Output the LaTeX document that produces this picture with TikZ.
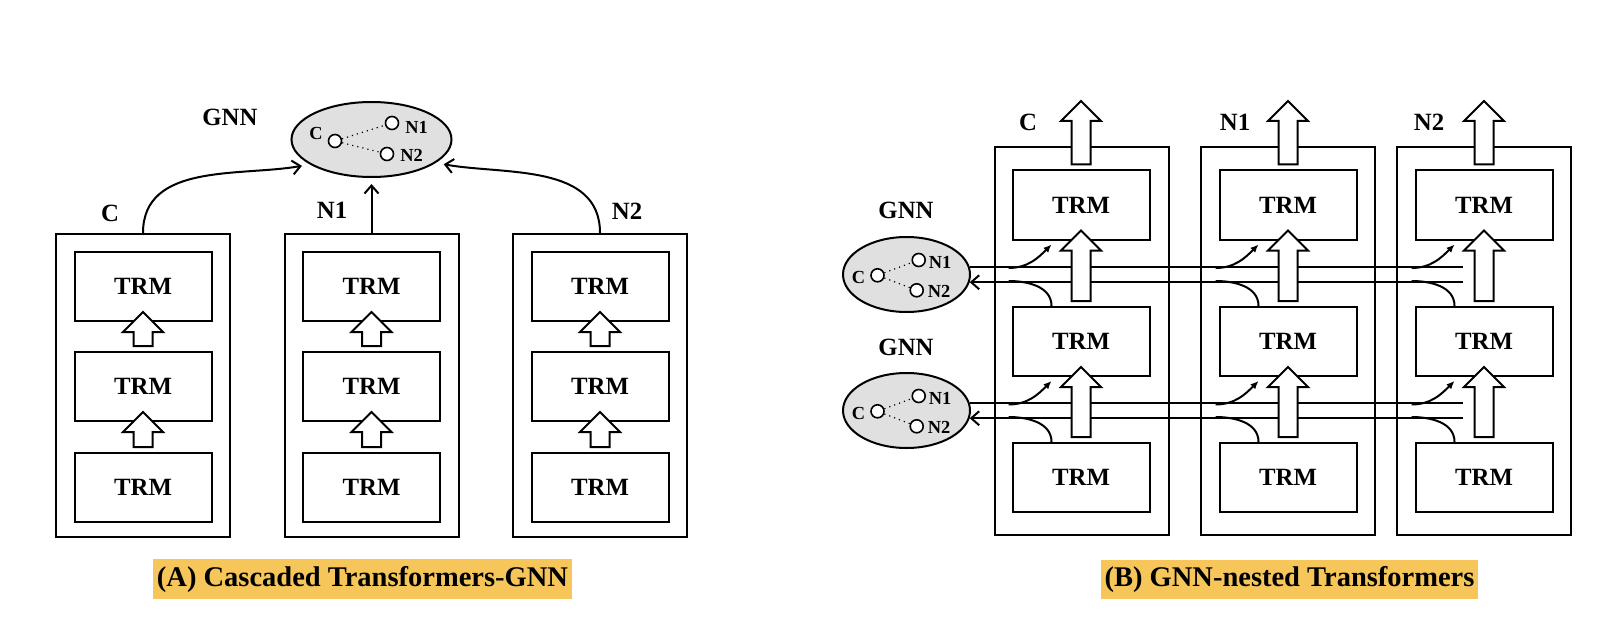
\documentclass[tikz,border=0pt]{standalone}
\usepackage{fontspec}
\setmainfont{Liberation Serif}
\usetikzlibrary{calc,shapes.geometric,arrows.meta,positioning}
\definecolor{capyellow}{RGB}{246,198,91}

\begin{document}
\begin{tikzpicture}[x=0.5pt, y=-0.5pt, line width=1pt,
    font=\fontsize{12.4}{14}\selectfont\bfseries,
    colbox/.style={draw, rectangle, minimum width=87pt, inner sep=0pt},
    trm/.style={draw, rectangle, fill=white, minimum width=68.5pt,
      minimum height=34.5pt, inner sep=0pt},
    gnn/.style={ellipse, draw, fill=black!12, inner sep=0pt},
    vertex/.style={circle, draw, fill=white, line width=0.8pt,
      minimum size=6.5pt, inner sep=0pt},
    smalltext/.style={font=\fontsize{9.2}{10}\selectfont\bfseries,
      inner sep=0pt, anchor=base},
    lbl/.style={inner sep=0pt, anchor=base},
    hollow/.style={draw, fill=white, to path={
      ($(\tikztostart)+(-9.5,-5)$) -- ($(\tikztotarget)+(-9.5,10)$)
      -- ($(\tikztotarget)+(-20,10)$) -- ($(\tikztotarget)+(0,-10)$)
      -- ($(\tikztotarget)+(20,10)$) -- ($(\tikztotarget)+(9.5,10)$)
      -- ($(\tikztostart)+(9.5,-5)$) -- cycle}},
    >={Straight Barb[length=4pt,width=7pt]},
    feed/.style={-{Latex[length=4pt,width=3.5pt]}},
    captionbox/.style={fill=capyellow, font=\fontsize{14.25}{16}\selectfont\bfseries,
      inner xsep=2pt, minimum height=19pt}]
    \useasboundingbox (0,0) rectangle (1620,636);

    % (A) cascaded
    \node[colbox, minimum height=151.5pt] (lc) at (143,385.5) {};
    \node[colbox, minimum height=151.5pt] (ln1) at (371.5,385.5) {};
    \node[colbox, minimum height=151.5pt] (ln2) at (600,385.5) {};
    \node[trm] (lc1) at (143,286.5) {TRM};
    \node[trm] (lc2) at (143,386.5) {TRM};
    \node[trm] (lc3) at (143,487.5) {TRM};
    \node[trm] (ln11) at (371.5,286.5) {TRM};
    \node[trm] (ln12) at (371.5,386.5) {TRM};
    \node[trm] (ln13) at (371.5,487.5) {TRM};
    \node[trm] (ln21) at (600,286.5) {TRM};
    \node[trm] (ln22) at (600,386.5) {TRM};
    \node[trm] (ln23) at (600,487.5) {TRM};
    \draw[hollow] (lc2.north) to (lc1.south);
    \draw[hollow] (lc3.north) to (lc2.south);
    \draw[hollow] (ln12.north) to (ln11.south);
    \draw[hollow] (ln13.north) to (ln12.south);
    \draw[hollow] (ln22.north) to (ln21.south);
    \draw[hollow] (ln23.north) to (ln22.south);
    \node[lbl] (lcl) at (110,221) {C};
    \node[lbl] (ln1l) at (332,219) {N1};
    \node[lbl] (ln2l) at (627,220) {N2};

    \node[lbl] (gAl) at (230,126) {GNN};
    \node[gnn, minimum width=80pt, minimum height=37.5pt] (gA) at (371.5,139.5) {};
    \node[vertex] (gAc) at (335,141) {};
    \node[vertex] (gAn1) at (392,123) {};
    \node[vertex] (gAn2) at (387,154) {};
    \draw[dotted, line width=0.6pt] (gAc) -- (gAn1);
    \draw[dotted, line width=0.6pt] (gAc) -- (gAn2);
    \node[smalltext] at (316,140) {C};
    \node[smalltext] at (416.5,134) {N1};
    \node[smalltext] at (411.5,162) {N2};
    \draw[->, shorten >=4pt] (lc.north) to[out=90,in=190] (gA.202);
    \draw[->, shorten >=3pt] (ln1.north) -- (gA.south);
    \draw[->, shorten >=4pt] (ln2.north) to[out=90,in=-10] (gA.-20);

    % (B) nested
    \node[colbox, minimum height=194pt] (rc) at (1082,341) {};
    \node[colbox, minimum height=194pt] (rn1) at (1288,341) {};
    \node[colbox, minimum height=194pt] (rn2) at (1484,341) {};
    \node[trm] (rc1) at (1081,205) {TRM};
    \node[trm] (rc2) at (1081,341.5) {TRM};
    \node[trm] (rc3) at (1081,477.5) {TRM};
    \node[trm] (rn11) at (1288,205) {TRM};
    \node[trm] (rn12) at (1288,341.5) {TRM};
    \node[trm] (rn13) at (1288,477.5) {TRM};
    \node[trm] (rn21) at (1484,205) {TRM};
    \node[trm] (rn22) at (1484,341.5) {TRM};
    \node[trm] (rn23) at (1484,477.5) {TRM};
    \node[lbl] (rcl) at (1028,131) {C};
    \node[lbl] (rn1l) at (1235,131) {N1};
    \node[lbl] (rn2l) at (1429,131) {N2};

    \node[lbl] (gB1l) at (906,219) {GNN};
    \node[gnn, minimum width=63.5pt, minimum height=37.5pt] (gB1) at (906.5,274.5) {};
    \node[lbl] (gB2l) at (906,355) {GNN};
    \node[gnn, minimum width=63.5pt, minimum height=37.5pt] (gB2) at (906.5,410.5) {};
    \coordinate (e) at (1463,0);
    \draw (gB1.7) -- (gB1.7 -| e);
    \draw[->] (gB1.-7 -| e) -- (gB1.-7);
    \draw (gB2.7) -- (gB2.7 -| e);
    \draw[->] (gB2.-7 -| e) -- (gB2.-7);

    \draw[feed] ($(rc1.south west)+(-3,27.5)$) to[out=0,in=225] ($(rc1.south west)+(40,4)$);
    \draw ($(rc2.north west)+(-3,-25)$) to[out=0,in=90] ($(rc2.north west)+(40,0)$);
    \draw[feed] ($(rc2.south west)+(-3,27.5)$) to[out=0,in=225] ($(rc2.south west)+(40,4)$);
    \draw ($(rc3.north west)+(-3,-25)$) to[out=0,in=90] ($(rc3.north west)+(40,0)$);
    \draw[feed] ($(rn11.south west)+(-3,27.5)$) to[out=0,in=225] ($(rn11.south west)+(40,4)$);
    \draw ($(rn12.north west)+(-3,-25)$) to[out=0,in=90] ($(rn12.north west)+(40,0)$);
    \draw[feed] ($(rn12.south west)+(-3,27.5)$) to[out=0,in=225] ($(rn12.south west)+(40,4)$);
    \draw ($(rn13.north west)+(-3,-25)$) to[out=0,in=90] ($(rn13.north west)+(40,0)$);
    \draw[feed] ($(rn21.south west)+(-3,27.5)$) to[out=0,in=225] ($(rn21.south west)+(40,4)$);
    \draw ($(rn22.north west)+(-3,-25)$) to[out=0,in=90] ($(rn22.north west)+(40,0)$);
    \draw[feed] ($(rn22.south west)+(-3,27.5)$) to[out=0,in=225] ($(rn22.south west)+(40,4)$);
    \draw ($(rn23.north west)+(-3,-25)$) to[out=0,in=90] ($(rn23.north west)+(40,0)$);

    \coordinate (rco) at (1081,111);
    \coordinate (rn1o) at (1288,111);
    \coordinate (rn2o) at (1484,111);
    \draw[hollow] (rc1.north) to (rco);
    \draw[hollow] (rc2.north) to (rc1.south);
    \draw[hollow] (rc3.north) to (rc2.south);
    \draw[hollow] (rn11.north) to (rn1o);
    \draw[hollow] (rn12.north) to (rn11.south);
    \draw[hollow] (rn13.north) to (rn12.south);
    \draw[hollow] (rn21.north) to (rn2o);
    \draw[hollow] (rn22.north) to (rn21.south);
    \draw[hollow] (rn23.north) to (rn22.south);

    \node[vertex] (gB1c) at (877.5,275.3) {};
    \node[vertex] (gB1n1) at (918.7,260) {};
    \node[vertex] (gB1n2) at (916.7,290.3) {};
    \draw[dotted, line width=0.6pt] (gB1c) -- (gB1n1);
    \draw[dotted, line width=0.6pt] (gB1c) -- (gB1n2);
    \node[smalltext] at (858.5,283) {C};
    \node[smalltext] at (940,268) {N1};
    \node[smalltext] at (939,297) {N2};
    \node[vertex] (gB2c) at (877.5,411.3) {};
    \node[vertex] (gB2n1) at (918.7,396) {};
    \node[vertex] (gB2n2) at (916.7,426.3) {};
    \draw[dotted, line width=0.6pt] (gB2c) -- (gB2n1);
    \draw[dotted, line width=0.6pt] (gB2c) -- (gB2n2);
    \node[smalltext] at (858.5,419) {C};
    \node[smalltext] at (940,404) {N1};
    \node[smalltext] at (939,433) {N2};

    \node[captionbox] (capA) at (362.5,579) {(A) Cascaded Transformers-GNN};
    \node[captionbox] (capB) at (1289.5,579.5) {(B) GNN-nested Transformers};
\end{tikzpicture}
\end{document}
